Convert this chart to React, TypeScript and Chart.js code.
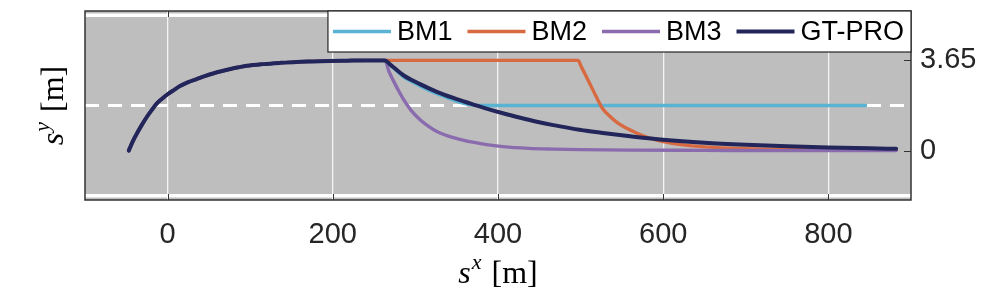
import { useEffect, useRef } from "react";
import { Chart, registerables } from "chart.js";
Chart.register(...registerables);

const seriesLabels = ["BM1", "BM2", "BM3", "GT-PRO"];
const seriesColors = ["#5bb3d4", "#d86a42", "#8a6cae", "#23265a"];
const seriesWidths = [3.4, 3.4, 3.4, 4];
const seriesOrder = [4, 3, 2, 1];

const xTicks = [0, 200, 400, 600, 800];
const yTicks = [0, 3.65];

// common lane-change manoeuvre at the start
const riseX = [-47, -42, -37, -31, -25, -19, -13, -6, 0, 8, 15, 25, 35, 45, 55, 66, 76, 86, 96, 116, 136, 156, 177, 197, 217, 240, 263];
const riseY = [0, 0.38, 0.7, 1.05, 1.37, 1.65, 1.91, 2.12, 2.28, 2.46, 2.61, 2.77, 2.89, 3.01, 3.12, 3.22, 3.3, 3.37, 3.43, 3.5, 3.55, 3.59, 3.61, 3.63, 3.64, 3.65, 3.65];

const bm1X = [270, 285, 305, 326, 346, 362, 376, 845];
const bm1Y = [3.45, 3.0, 2.63, 2.3, 2.05, 1.88, 1.825, 1.825];

const bm2X = [497, 501, 507, 511, 519, 527, 535, 544, 554, 564, 574, 584, 600, 624, 650, 680, 720, 780, 850, 882];
const bm2Y = [3.65, 3.38, 2.99, 2.72, 2.18, 1.68, 1.4, 1.14, 0.93, 0.77, 0.62, 0.5, 0.36, 0.23, 0.15, 0.1, 0.06, 0.03, 0.01, 0.01];

const bm3X = [268, 275, 280, 286, 295, 306, 316, 326, 346, 366, 386, 406, 437, 467, 500, 560, 650, 750, 882];
const bm3Y = [3.2, 2.72, 2.4, 2.05, 1.62, 1.24, 0.98, 0.77, 0.52, 0.36, 0.24, 0.16, 0.09, 0.06, 0.04, 0.02, 0.01, 0.0, 0.0];

const gtX = [270, 285, 305, 326, 346, 366, 386, 406, 427, 447, 467, 487, 507, 527, 560, 600, 650, 700, 750, 800, 850, 882];
const gtY = [3.47, 3.06, 2.7, 2.38, 2.13, 1.91, 1.7, 1.51, 1.33, 1.17, 1.03, 0.91, 0.8, 0.71, 0.58, 0.44, 0.32, 0.24, 0.18, 0.13, 0.09, 0.07];

const roadX = [-100, 900];
const roadEdgeTop = [5.475, 5.475];
const roadCenter = [1.825, 1.825];
const roadEdgeBottom = [-1.825, -1.825];

const tails = [
  [bm1X, bm1Y],
  [bm2X, bm2Y],
  [bm3X, bm3Y],
  [gtX, gtY],
];

const toPts = (xs: number[], ys: number[]) => xs.map((x, i) => ({ x, y: ys[i] }));

const SANS = '"Liberation Sans", Arial, Helvetica, sans-serif';
const SERIF = '"Liberation Serif", "Times New Roman", serif';

type Part = { t: string; font: string; dy: number; gap?: number };

function drawParts(ctx: CanvasRenderingContext2D, parts: Part[], cx: number, baseY: number) {
  let total = 0;
  const ws = parts.map((p) => {
    ctx.font = p.font;
    const w = ctx.measureText(p.t).width + (p.gap || 0);
    total += w;
    return w;
  });
  let x = cx - total / 2;
  ctx.textBaseline = "alphabetic";
  ctx.textAlign = "left";
  parts.forEach((p, i) => {
    ctx.font = p.font;
    ctx.fillText(p.t, x + (p.gap || 0), baseY + p.dy);
    x += ws[i];
  });
}

const decoPlugin = {
  id: "deco",
  beforeDraw(chart: any) {
    const { ctx, chartArea: a } = chart;
    ctx.save();
    ctx.fillStyle = "#ffffff";
    ctx.fillRect(0, 0, chart.width, chart.height);
    ctx.fillStyle = "#bebebe";
    ctx.fillRect(a.left, a.top, a.right - a.left, a.bottom - a.top);
    ctx.restore();
  },
  afterDraw(chart: any) {
    const { ctx, chartArea: a, scales } = chart;
    ctx.save();
    // box
    ctx.strokeStyle = "#333333";
    ctx.lineWidth = 1.5;
    ctx.strokeRect(a.left, a.top, a.right - a.left, a.bottom - a.top);
    // inner ticks
    ctx.lineWidth = 1;
    ctx.strokeStyle = "#333333";
    xTicks.forEach((v) => {
      const px = Math.round(scales.x.getPixelForValue(v)) + 0.5;
      ctx.beginPath();
      ctx.moveTo(px, a.bottom);
      ctx.lineTo(px, a.bottom - 6);
      ctx.moveTo(px, a.top);
      ctx.lineTo(px, a.top + 6);
      ctx.stroke();
    });
    yTicks.forEach((v) => {
      const py = Math.round(scales.y.getPixelForValue(v)) + 0.5;
      ctx.beginPath();
      ctx.moveTo(a.right, py);
      ctx.lineTo(a.right - 7, py);
      ctx.stroke();
    });

    // legend
    const fontL = `27px ${SANS}`;
    ctx.font = fontL;
    const widths = seriesLabels.map((l) => ctx.measureText(l).width);
    const lineLen = 58, gapTxt = 6, gapItem = 15, padL = 5, padR = 7;
    const total =
      padL + widths.reduce((s, w) => s + lineLen + gapTxt + w, 0) + gapItem * (seriesLabels.length - 1) + padR;
    const bx = a.right - total;
    const by = a.top;
    const bh = 41;
    ctx.fillStyle = "#ffffff";
    ctx.fillRect(bx, by, total, bh);
    ctx.strokeStyle = "#262626";
    ctx.lineWidth = 1.2;
    ctx.strokeRect(bx, by, total, bh);
    let x = bx + padL;
    const cy = by + bh / 2;
    seriesLabels.forEach((l, i) => {
      ctx.strokeStyle = seriesColors[i];
      ctx.lineWidth = seriesWidths[i];
      ctx.beginPath();
      ctx.moveTo(x, cy);
      ctx.lineTo(x + lineLen, cy);
      ctx.stroke();
      ctx.fillStyle = "#000000";
      ctx.font = fontL;
      ctx.textBaseline = "middle";
      ctx.textAlign = "left";
      ctx.fillText(l, x + lineLen + gapTxt, cy + 1);
      x += lineLen + gapTxt + widths[i] + gapItem;
    });

    // axis titles
    ctx.fillStyle = "#000000";
    const mk = (sub: string): Part[] => [
      { t: "s", font: `italic 32px ${SERIF}`, dy: 0 },
      { t: sub, font: `italic 22px ${SERIF}`, dy: -14, gap: 1 },
      { t: "[m]", font: `32px ${SERIF}`, dy: 0, gap: 10 },
    ];
    drawParts(ctx, mk("x"), (a.left + a.right) / 2, 283);
    ctx.save();
    ctx.translate(63, (a.top + a.bottom) / 2);
    ctx.rotate(-Math.PI / 2);
    drawParts(ctx, mk("y"), 0, 0);
    ctx.restore();
    ctx.restore();
  },
};

export default function App() {
  const ref = useRef<HTMLCanvasElement | null>(null);
  useEffect(() => {
    if (!ref.current) return;
    const riseBase = toPts(riseX, riseY);
    const road = (ys: number[], dash: number[], w: number) => ({
      label: "",
      data: toPts(roadX, ys),
      borderColor: "#ffffff",
      borderWidth: w,
      borderDash: dash,
      pointRadius: 0,
      order: 10,
      tension: 0,
    });
    const datasets: any[] = seriesLabels.map((l, i) => ({
      label: l,
      data: riseBase.concat(toPts(tails[i][0], tails[i][1])),
      borderColor: seriesColors[i],
      borderWidth: seriesWidths[i],
      pointRadius: 0,
      cubicInterpolationMode: "monotone",
      borderCapStyle: "round",
      borderJoinStyle: "round",
      order: seriesOrder[i],
    }));
    datasets.push(road(roadEdgeTop, [], 3.5), road(roadCenter, [14, 9], 3), road(roadEdgeBottom, [], 3.5));
    const chart = new Chart(ref.current, {
      type: "line",
      data: { datasets },
      options: {
        responsive: false,
        animation: false,
        devicePixelRatio: 1,
        layout: { padding: { left: 85, top: 11, right: 0, bottom: 0 } },
        plugins: { legend: { display: false }, tooltip: { enabled: false } },
        scales: {
          x: {
            type: "linear",
            min: -100,
            max: 900,
            afterBuildTicks: (s: any) => {
              s.ticks = xTicks.map((v) => ({ value: v }));
            },
            afterFit: (s: any) => {
              s.height = 93;
              s.paddingLeft = 0;
              s.paddingRight = 0;
            },
            ticks: {
              font: { family: SANS, size: 29 },
              color: "#262626",
              padding: 18,
              maxRotation: 0,
              autoSkip: false,
            },
            grid: { color: "#f4f4f4", lineWidth: 1.3, drawTicks: false },
            border: { display: false },
          },
          y: {
            type: "linear",
            position: "right",
            min: -2,
            max: 5.65,
            afterBuildTicks: (s: any) => {
              s.ticks = yTicks.map((v) => ({ value: v }));
            },
            afterFit: (s: any) => {
              s.width = 86;
              s.paddingTop = 0;
              s.paddingBottom = 0;
            },
            ticks: {
              font: { family: SANS, size: 29 },
              color: "#262626",
              padding: 9,
              callback: (v: any) => String(v),
            },
            grid: { display: false, drawTicks: false },
            border: { display: false },
          },
        },
      } as any,
      plugins: [decoPlugin],
    });
    return () => chart.destroy();
  }, []);
  return (
    <div style={{ position: "absolute", left: 0, top: 0, width: 997, height: 293 }}>
      <canvas ref={ref} width={997} height={293} style={{ display: "block" }} />
    </div>
  );
}
